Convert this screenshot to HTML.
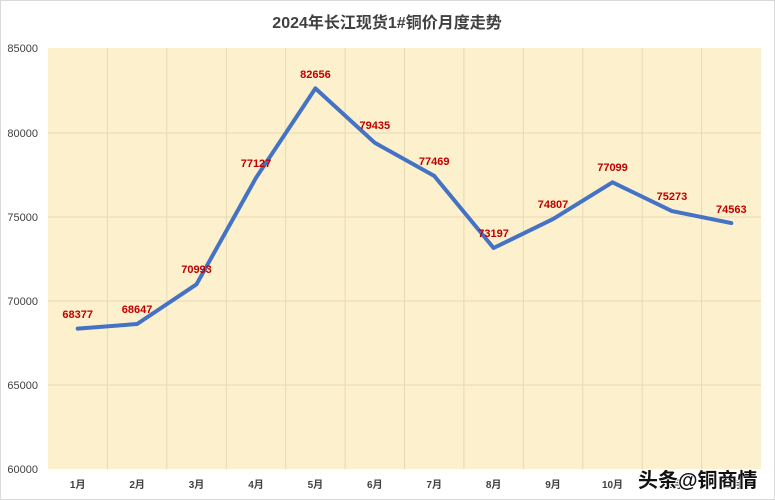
<!DOCTYPE html>
<html><head><meta charset="utf-8"><style>body{margin:0;background:#fff}svg{display:block}</style></head><body>
<svg width="775" height="500" xmlns="http://www.w3.org/2000/svg" font-family="'Liberation Sans','Noto Sans CJK SC',sans-serif">
<rect x="0.5" y="0.5" width="774" height="499" fill="#fff" stroke="#d9d9d9"/>
<text x="387" y="28" text-anchor="middle" font-size="16" font-weight="bold" fill="#404040">2024年长江现货1#铜价月度走势</text>
<rect x="48" y="48" width="713" height="421" fill="#fdf0cc"/>
<g stroke="#e6d9b5" stroke-width="1">
<line x1="48" y1="133" x2="761" y2="133"/><line x1="48" y1="217" x2="761" y2="217"/><line x1="48" y1="301" x2="761" y2="301"/><line x1="48" y1="385" x2="761" y2="385"/>
<line x1="107.4" y1="48" x2="107.4" y2="469"/><line x1="166.8" y1="48" x2="166.8" y2="469"/><line x1="226.3" y1="48" x2="226.3" y2="469"/><line x1="285.7" y1="48" x2="285.7" y2="469"/><line x1="345.1" y1="48" x2="345.1" y2="469"/><line x1="404.5" y1="48" x2="404.5" y2="469"/><line x1="463.9" y1="48" x2="463.9" y2="469"/><line x1="523.3" y1="48" x2="523.3" y2="469"/><line x1="582.8" y1="48" x2="582.8" y2="469"/><line x1="642.2" y1="48" x2="642.2" y2="469"/><line x1="701.6" y1="48" x2="701.6" y2="469"/>
</g>
<g font-size="11" fill="#404040" text-anchor="end">
<text x="38" y="52">85000</text><text x="38" y="137">80000</text><text x="38" y="221">75000</text><text x="38" y="305">70000</text><text x="38" y="389">65000</text><text x="38" y="473">60000</text>
</g>
<g font-size="10" font-weight="bold" fill="#404040" text-anchor="middle">
<text x="77.7" y="488">1月</text><text x="137.1" y="488">2月</text><text x="196.5" y="488">3月</text><text x="256" y="488">4月</text><text x="315.4" y="488">5月</text><text x="374.8" y="488">6月</text><text x="434.2" y="488">7月</text><text x="493.6" y="488">8月</text><text x="553" y="488">9月</text><text x="612.5" y="488">10月</text><text x="671.9" y="488">11月</text><text x="731.3" y="488">12月</text>
</g>
<polyline fill="none" stroke="#4472c4" stroke-width="4" stroke-linejoin="round" stroke-linecap="round" points="77.7,328.6 137.1,324 196.5,284.3 256,177.8 315.4,88.4 374.8,142.8 434.2,175.9 493.6,248 553,219.1 612.5,182.3 671.9,211.1 731.3,223.1"/>
<g font-size="11" font-weight="bold" fill="#c00000" text-anchor="middle">
<text x="77.7" y="318">68377</text><text x="137.1" y="313">68647</text><text x="196.5" y="273">70993</text><text x="256" y="167">77127</text><text x="315.4" y="78">82656</text><text x="374.8" y="129">79435</text><text x="434.2" y="165">77469</text><text x="493.6" y="237">73197</text><text x="553" y="208">74807</text><text x="612.5" y="171">77099</text><text x="671.9" y="200">75273</text><text x="731.3" y="213">74563</text>
</g>
<text x="638" y="487" font-size="20" fill="#111" stroke="#fff" stroke-width="2" paint-order="stroke" font-weight="bold">头条@铜商情</text>
</svg>
</body></html>
